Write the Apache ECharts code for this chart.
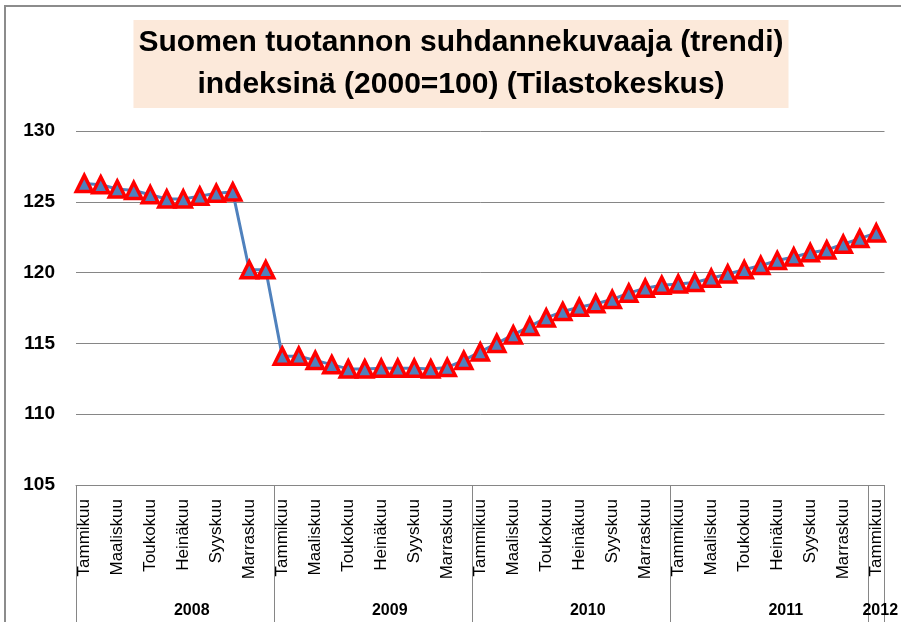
<!DOCTYPE html>
<html>
<head>
<meta charset="utf-8">
<script src="https://cdn.jsdelivr.net/npm/echarts@6/dist/echarts.min.js"></script>
<style>
    html, body { margin: 0; padding: 0; background: #fff; }
    #chart { width: 901px; height: 622px; }
</style>
</head>
<body>
<div id="chart"></div>
<script>
var months = ['Tammikuu', 'Helmikuu', 'Maaliskuu', 'Huhtikuu', 'Toukokuu', 'Kesäkuu',
    'Heinäkuu', 'Elokuu', 'Syyskuu', 'Lokakuu', 'Marraskuu', 'Joulukuu'];
var years = ['2008', '2009', '2010', '2011', '2012'];
var monthsInYear = [12, 12, 12, 12, 1];
var yTicks = [105, 130, 5]; // min, max, interval

// trendi, indeksi 2000=100
var trend2008 = [126.3, 126.2, 125.9, 125.8, 125.5, 125.2, 125.2, 125.4, 125.6, 125.7, 120.2, 120.2];
var trend2009 = [114.1, 114.1, 113.8, 113.5, 113.2, 113.2, 113.25, 113.25, 113.25, 113.2, 113.3, 113.8];
var trend2010 = [114.4, 115.0, 115.6, 116.2, 116.8, 117.25, 117.55, 117.8, 118.1, 118.55, 118.9, 119.1];
var trend2011 = [119.2, 119.3, 119.6, 119.9, 120.2, 120.5, 120.85, 121.1, 121.4, 121.6, 122.0, 122.4];
var trend2012 = [122.8];

var categories = [];
var yearOf = [];
years.forEach(function (y, i) {
    for (var m = 0; m < monthsInYear[i]; m++) {
        categories.push(months[m]);
        yearOf.push(i);
    }
});
var trend = trend2008.concat(trend2009, trend2010, trend2011, trend2012);

var font = 'Liberation Sans, Arial, sans-serif';
var chart = echarts.init(document.getElementById('chart'));

chart.setOption({
    animation: false,
    backgroundColor: '#fff',
    title: {
        text: 'Suomen tuotannon suhdannekuvaaja (trendi)\nindeksinä (2000=100) (Tilastokeskus)',
        left: 456,
        top: 20,
        textAlign: 'center',
        backgroundColor: '#FCE9DA',
        padding: [2, 5, 2, 5],
        textStyle: {
            fontFamily: font,
            fontSize: 30,
            fontWeight: 'bold',
            color: '#000',
            lineHeight: 42
        }
    },
    graphic: [{
        type: 'rect',
        shape: { x: 5, y: 6, width: 920, height: 640 },
        style: { fill: 'none', stroke: '#8c8c8c', lineWidth: 2 },
        silent: true
    }],
    grid: { left: 76, right: 12, top: 131, bottom: 137 },
    xAxis: [{
        type: 'category',
        data: categories,
        boundaryGap: true,
        axisLine: { lineStyle: { color: '#868686', width: 1 } },
        axisTick: {
            show: true,
            length: 140,
            interval: function (i) { return i % 12 === 0; },
            lineStyle: { color: '#868686', width: 1 }
        },
        axisLabel: {
            rotate: 90,
            interval: 1,
            margin: 14,
            fontFamily: font,
            fontSize: 17,
            color: '#000'
        }
    }, {
        type: 'category',
        data: categories,
        position: 'bottom',
        boundaryGap: true,
        axisLine: { show: false },
        axisTick: { show: false },
        axisLabel: {
            interval: function (i) {
                var y = yearOf[i];
                return monthsInYear[y] === 1 ? true : (i % 12 === 6);
            },
            margin: 118,
            formatter: function (v, i) {
                var y = yearOf[i];
                return (monthsInYear[y] === 1 ? '{b|' : '{a|') + years[y] + '}';
            },
            rich: {
                a: { fontFamily: font, fontSize: 16, fontWeight: 'bold', color: '#000', padding: [0, 0, 0, 17] },
                b: { fontFamily: font, fontSize: 16, fontWeight: 'bold', color: '#000', padding: [0, 0, 0, 8] }
            }
        }
    }],
    yAxis: {
        type: 'value',
        min: yTicks[0],
        max: yTicks[1],
        interval: yTicks[2],
        axisLine: { show: false },
        axisTick: { show: false },
        axisLabel: {
            margin: 21,
            fontFamily: font,
            fontSize: 19,
            fontWeight: 'bold',
            color: '#000'
        },
        splitLine: { lineStyle: { color: '#868686', width: 1 } }
    },
    series: [{
        type: 'line',
        data: trend,
        symbol: 'triangle',
        symbolSize: 16,
        showAllSymbol: true,
        lineStyle: { color: '#4F81BD', width: 3 },
        itemStyle: { color: '#4F81BD', borderColor: '#FF0000', borderWidth: 3.5 }
    }]
});
</script>
</body>
</html>
